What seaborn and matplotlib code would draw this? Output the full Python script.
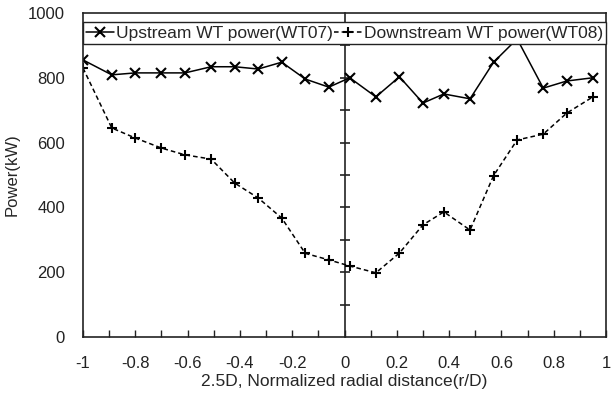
import numpy as np
import pandas as pd
import seaborn as sns
import matplotlib.pyplot as plt
from matplotlib.ticker import MultipleLocator

# --- data ---
r_over_d = [-1.0, -0.89, -0.80, -0.70, -0.61, -0.51, -0.42, -0.33, -0.24, -0.15, -0.06,
            0.02, 0.12, 0.21, 0.30, 0.38, 0.48, 0.57, 0.66, 0.76, 0.85, 0.95]
upstream_kw = [855, 809, 815, 815, 815, 834, 834, 827, 848, 796, 771,
               800, 741, 803, 722, 750, 735, 848, 920, 768, 790, 800]
downstream_kw = [830, 645, 614, 583, 562, 549, 475, 429, 367, 258, 238,
                 219, 198, 259, 346, 386, 330, 498, 608, 626, 691, 741]

up_name = 'Upstream WT power(WT07)'
down_name = 'Downstream WT power(WT08)'

x_ticks = [-1, -0.8, -0.6, -0.4, -0.2, 0, 0.2, 0.4, 0.6, 0.8, 1]
x_tick_labels = ['-1', '-0.8', '-0.6', '-0.4', '-0.2', '0', '0.2', '0.4', '0.6', '0.8', '1']
y_ticks = [0, 200, 400, 600, 800, 1000]

df = pd.concat([
    pd.DataFrame({'r': r_over_d, 'power': upstream_kw, 'series': up_name}),
    pd.DataFrame({'r': r_over_d, 'power': downstream_kw, 'series': down_name}),
], ignore_index=True)

sns.set_style('white')
plt.rcParams['font.family'] = ['Liberation Sans', 'DejaVu Sans']

fig, ax = plt.subplots(figsize=(6.13, 4.05), dpi=100)
fig.subplots_adjust(left=0.1354, right=0.9886, bottom=0.168, top=0.968)

# solid line with x markers (upstream), dashed line with + markers (downstream)
sns.lineplot(data=df, x='r', y='power', style='series', ax=ax, color='black',
             lw=1.1, markers={up_name: 'x', down_name: '+'},
             dashes={up_name: '', down_name: (3, 2)},
             markersize=7, markeredgewidth=1.5, markeredgecolor='black', sort=False)

ax.set_xlim(-1, 1)
ax.set_ylim(0, 1000)

# bottom ticks pointing inward
ax.set_xticks(x_ticks)
ax.set_xticklabels(x_tick_labels, fontsize=12)
ax.xaxis.set_minor_locator(MultipleLocator(0.1))
ax.tick_params(axis='x', which='both', direction='in', length=5, width=1,
               bottom=True, top=False, pad=14, colors='#222222')
ax.set_yticks(y_ticks)
ax.set_yticklabels([str(v) for v in y_ticks], fontsize=12)
ax.tick_params(axis='y', length=0, pad=13, colors='#222222')

# center line with crossing ticks
mid = ax.secondary_yaxis(0.5)
mid.set_yticks(range(100, 1000, 100))
mid.set_yticklabels([])
mid.tick_params(direction='inout', length=7, width=1.2, colors='#222222')
for sp in mid.spines.values():
    sp.set_linewidth(1.2)
    sp.set_color('#222222')

for sp in ax.spines.values():
    sp.set_color('#222222')
    sp.set_linewidth(1.2)

ax.set_xlabel('2.5D, Normalized radial distance(r/D)', fontsize=12.5, labelpad=2)
ax.set_ylabel('Power(kW)', fontsize=12, labelpad=6)

leg = ax.legend(loc='upper center', bbox_to_anchor=(0.5, 1 - 9 / 324), ncol=2,
                fontsize=12.5, frameon=True, fancybox=False, framealpha=1,
                edgecolor='#222222', borderaxespad=0, borderpad=0.2,
                handlelength=1.6, handletextpad=0.1, columnspacing=0.1)
leg.get_frame().set_linewidth(1.0)
leg.set_zorder(5)

fig.savefig('out.png', dpi=100)
